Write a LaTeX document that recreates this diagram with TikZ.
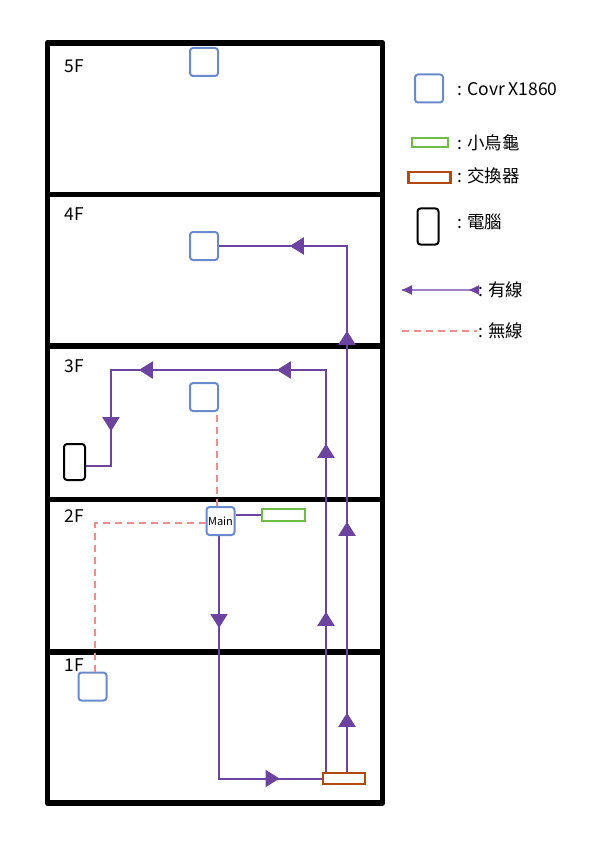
\documentclass[tikz,border=0pt]{standalone}
\usepackage{fontspec}
\setmainfont{Noto Sans CJK TC}
\usetikzlibrary{arrows.meta,decorations.markings,calc}
\definecolor{wire}{RGB}{108,68,160}
\definecolor{wirelight}{RGB}{160,130,200}
\definecolor{covrblue}{RGB}{106,138,204}
\definecolor{turtlegreen}{RGB}{110,190,70}
\definecolor{switchorange}{RGB}{178,74,16}
\definecolor{wirelesspink}{RGB}{240,140,140}
\tikzset{
  covr/.style={draw=covrblue, line width=2pt, rounded corners=3pt, minimum width=28pt, minimum height=28pt, inner sep=0pt, fill=white},
  turtle/.style={draw=turtlegreen, line width=2.4pt, minimum width=43pt, minimum height=12pt, inner sep=0pt},
  switchbox/.style={draw=switchorange, line width=2.4pt, minimum width=42pt, minimum height=11pt, inner sep=0pt, fill=white},
  pc/.style={draw=black, line width=2pt, rounded corners=3pt, minimum width=21pt, minimum height=36pt, inner sep=0pt},
  wired/.style={draw=wire, line width=2pt},
  wireless/.style={draw=wirelesspink, line width=1.8pt, dash pattern=on 7pt off 5pt},
  tipat/.style={postaction={decorate,decoration={markings,mark=at position #1 with {\arrow{Triangle[width=17pt,length=14pt]}}}}},
  smalltipat/.style={postaction={decorate,decoration={markings,mark=at position #1 with {\arrow[wire]{Triangle[width=9pt,length=10pt]}}}}},
  floorlabel/.style={font=\fontsize{17.5}{20}\selectfont, inner sep=0pt},
  legendtext/.style={font=\fontsize{17.5}{20}\selectfont, inner sep=0pt, anchor=west},
  wall/.style={line width=5.8pt, line join=round}
}
\begin{document}
\begin{tikzpicture}[x=1pt,y=-1pt]
\useasboundingbox (0,0) rectangle (595,842);
% building
\draw[wall] (47.5,43) rectangle (382.5,803);
\foreach \yy in {194.5,346,499.5,652} \draw[wall] (47.5,\yy) -- (382.5,\yy);
% floor labels
\node[floorlabel] (f5) at (74,66) {5F};
\node[floorlabel] (f4) at (74,214) {4F};
\node[floorlabel] (f3) at (74,366.5) {3F};
\node[floorlabel] (f2) at (74,516) {2F};
\node[floorlabel] (f1) at (74,665) {1F};
% devices
\node[covr] (c5) at (204,62) {};
\node[covr] (c4) at (204,246) {};
\node[covr] (c3) at (204,397) {};
\node[covr, font=\fontsize{11}{12}\selectfont] (main) at (220.5,521) {Main};
\node[covr] (c1) at (92.5,686.5) {};
\node[turtle] (tt) at (283.5,515) {};
\node[switchbox] (sw) at (344,778.5) {};
\node[pc] (pc) at (74.5,462) {};
% wireless
\draw[wireless] ([xshift=-3.5pt]main.north) -- ([xshift=-3.5pt]main.north |- c3.south);
\draw[wireless] ([yshift=-2pt]main.west) -| ([xshift=2.5pt]c1.north);
% wired
\draw[wired] (main.east |- tt.west) -- (tt.west);
\draw[wired, tipat=59pt, tipat=250pt, tipat=441pt, tipat=583pt]
  ([xshift=3pt]sw.north) -- ([xshift=3pt]sw.north |- c4.east) -- (c4.east);
\coordinate (b1) at (326,370);
\coordinate (b2) at (111,370);
\coordinate (b3) at (111,466);
\draw[wired, tipat=160pt, tipat=328pt, tipat=451pt, tipat=589pt, tipat=678pt]
  ([xshift=-18pt]sw.north) -- (b1) -- (b2) -- (b3) -- (b3 -| pc.east);
\draw[wired, tipat=92pt, tipat=303pt]
  ([xshift=-1.5pt]main.south) |- (sw.west);
% legend
\node[covr] (lcovr) at (429,88.5) {};
\node[legendtext] (tcovr) at (457,89) {: Covr X1860};
\node[turtle, minimum width=36pt, minimum height=9pt] (ltt) at (430,142.5) {};
\node[legendtext] (ttt) at (457,143) {: 小烏龜};
\node[switchbox] (lsw) at (429.5,177.5) {};
\node[legendtext] (tsw) at (457,176) {: 交換器};
\node[pc] (lpc) at (428,226.5) {};
\node[legendtext] (tpc) at (457,222) {: 電腦};
\coordinate (lw1) at (478,290);
\coordinate (lw2) at (402,290);
\draw[draw=wirelight, line width=1.8pt, smalltipat=9pt, smalltipat=1] (lw1) -- (lw2);
\node[legendtext] (twired) at (478,290) {: 有線};
\coordinate (ld1) at (402,331);
\coordinate (ld2) at (477,331);
\draw[wireless] (ld1) -- (ld2);
\node[legendtext] (twl) at (478,331) {: 無線};
\end{tikzpicture}
\end{document}
